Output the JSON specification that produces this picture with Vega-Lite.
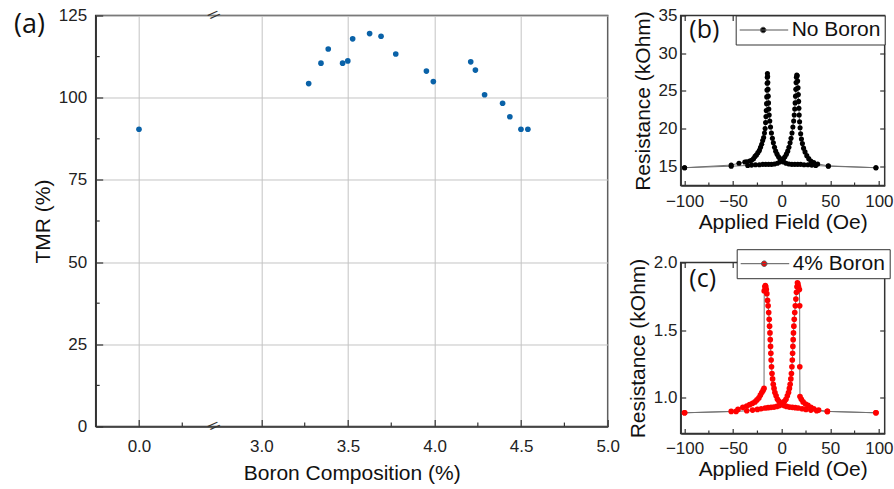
{
  "$schema": "https://vega.github.io/schema/vega-lite/v6.json",
  "padding": {"left": 12.7, "top": 5.5, "right": 1, "bottom": 0},
  "background": "white",
  "spacing": 5,
  "resolve": {"scale": {"color": "independent"}, "legend": {"color": "independent"}},
  "config": {
    "view": {"stroke": "#333", "strokeWidth": 1.5},
    "axis": {"labelFont": "Liberation Sans", "labelFontSize": 17, "labelColor": "#222", "titleFont": "Liberation Sans", "titleFontSize": 21, "titleFontWeight": "normal", "titleColor": "#111", "domainColor": "#333", "domainWidth": 1.5, "tickColor": "#333", "tickWidth": 1.2, "gridColor": "#c4c4c4", "gridWidth": 1, "labelOverlap": false, "labelFlush": false}
  },
  "datasets": {
    "main": [
      {"boron": 0, "tmr": 90.4},
      {"boron": 3.273, "tmr": 104.3},
      {"boron": 3.344, "tmr": 110.5},
      {"boron": 3.386, "tmr": 114.8},
      {"boron": 3.469, "tmr": 110.5},
      {"boron": 3.499, "tmr": 111.2},
      {"boron": 3.527, "tmr": 117.9},
      {"boron": 3.625, "tmr": 119.5},
      {"boron": 3.691, "tmr": 118.7},
      {"boron": 3.776, "tmr": 113.3},
      {"boron": 3.953, "tmr": 108.1},
      {"boron": 3.993, "tmr": 104.9},
      {"boron": 4.209, "tmr": 110.9},
      {"boron": 4.236, "tmr": 108.4},
      {"boron": 4.289, "tmr": 100.9},
      {"boron": 4.393, "tmr": 98.3},
      {"boron": 4.435, "tmr": 94.2},
      {"boron": 4.499, "tmr": 90.4},
      {"boron": 4.539, "tmr": 90.4}
    ],
    "minorx": [{"boron": 0.25}, {"boron": 3.25}, {"boron": 3.75}, {"boron": 4.25}, {"boron": 4.75}],
    "minory": [{"tmr": 12.5}, {"tmr": 37.5}, {"tmr": 62.5}, {"tmr": 87.5}, {"tmr": 112.5}],
    "breaks": [{"tmr": 0}, {"tmr": 125}],
    "minorH": [{"H": -75}, {"H": -25}, {"H": 25}, {"H": 75}],
    "noboron": [
      {"H": -100, "R": 14.8, "branch": "down", "sample": "No Boron"},
      {"H": -52, "R": 15.15, "branch": "down", "sample": "No Boron"},
      {"H": -44, "R": 15.4, "branch": "down", "sample": "No Boron"},
      {"H": -38, "R": 15.55, "branch": "down", "sample": "No Boron"},
      {"H": -36, "R": 15.6, "branch": "down", "sample": "No Boron"},
      {"H": -33, "R": 15.7, "branch": "down", "sample": "No Boron"},
      {"H": -31, "R": 15.8, "branch": "down", "sample": "No Boron"},
      {"H": -29, "R": 16.0, "branch": "down", "sample": "No Boron"},
      {"H": -27.5, "R": 16.3, "branch": "down", "sample": "No Boron"},
      {"H": -26, "R": 16.5, "branch": "down", "sample": "No Boron"},
      {"H": -24.5, "R": 16.8, "branch": "down", "sample": "No Boron"},
      {"H": -23, "R": 17.1, "branch": "down", "sample": "No Boron"},
      {"H": -21.8, "R": 17.5, "branch": "down", "sample": "No Boron"},
      {"H": -20.6, "R": 17.9, "branch": "down", "sample": "No Boron"},
      {"H": -19.6, "R": 18.4, "branch": "down", "sample": "No Boron"},
      {"H": -18.6, "R": 18.8, "branch": "down", "sample": "No Boron"},
      {"H": -17.8, "R": 19.4, "branch": "down", "sample": "No Boron"},
      {"H": -17.1, "R": 20.0, "branch": "down", "sample": "No Boron"},
      {"H": -16.6, "R": 20.8, "branch": "down", "sample": "No Boron"},
      {"H": -16.2, "R": 21.6, "branch": "down", "sample": "No Boron"},
      {"H": -15.9, "R": 22.4, "branch": "down", "sample": "No Boron"},
      {"H": -15.6, "R": 23.3, "branch": "down", "sample": "No Boron"},
      {"H": -15.4, "R": 24.2, "branch": "down", "sample": "No Boron"},
      {"H": -15.2, "R": 25.1, "branch": "down", "sample": "No Boron"},
      {"H": -15.0, "R": 26.0, "branch": "down", "sample": "No Boron"},
      {"H": -14.9, "R": 26.8, "branch": "down", "sample": "No Boron"},
      {"H": -14.7, "R": 27.3, "branch": "down", "sample": "No Boron"},
      {"H": -14.5, "R": 26.9, "branch": "down", "sample": "No Boron"},
      {"H": -14.3, "R": 26.1, "branch": "down", "sample": "No Boron"},
      {"H": -14.1, "R": 25.2, "branch": "down", "sample": "No Boron"},
      {"H": -13.9, "R": 24.3, "branch": "down", "sample": "No Boron"},
      {"H": -13.6, "R": 23.4, "branch": "down", "sample": "No Boron"},
      {"H": -13.3, "R": 22.6, "branch": "down", "sample": "No Boron"},
      {"H": -12.9, "R": 21.8, "branch": "down", "sample": "No Boron"},
      {"H": -12.3, "R": 21.0, "branch": "down", "sample": "No Boron"},
      {"H": -11.5, "R": 20.2, "branch": "down", "sample": "No Boron"},
      {"H": -10.6, "R": 19.4, "branch": "down", "sample": "No Boron"},
      {"H": -9.6, "R": 18.7, "branch": "down", "sample": "No Boron"},
      {"H": -8.6, "R": 18.1, "branch": "down", "sample": "No Boron"},
      {"H": -7.4, "R": 17.5, "branch": "down", "sample": "No Boron"},
      {"H": -6.2, "R": 17.0, "branch": "down", "sample": "No Boron"},
      {"H": -4.8, "R": 16.6, "branch": "down", "sample": "No Boron"},
      {"H": -3.3, "R": 16.25, "branch": "down", "sample": "No Boron"},
      {"H": -1.8, "R": 16.0, "branch": "down", "sample": "No Boron"},
      {"H": 0, "R": 15.75, "branch": "down", "sample": "No Boron"},
      {"H": 2, "R": 15.55, "branch": "down", "sample": "No Boron"},
      {"H": 4.5, "R": 15.4, "branch": "down", "sample": "No Boron"},
      {"H": 7.5, "R": 15.3, "branch": "down", "sample": "No Boron"},
      {"H": 10.5, "R": 15.25, "branch": "down", "sample": "No Boron"},
      {"H": 13.5, "R": 15.25, "branch": "down", "sample": "No Boron"},
      {"H": 16.5, "R": 15.25, "branch": "down", "sample": "No Boron"},
      {"H": 19.5, "R": 15.25, "branch": "down", "sample": "No Boron"},
      {"H": 23, "R": 15.2, "branch": "down", "sample": "No Boron"},
      {"H": 27, "R": 15.2, "branch": "down", "sample": "No Boron"},
      {"H": 31, "R": 15.15, "branch": "down", "sample": "No Boron"},
      {"H": 35, "R": 15.1, "branch": "down", "sample": "No Boron"},
      {"H": 48, "R": 15.0, "branch": "down", "sample": "No Boron"},
      {"H": 97, "R": 14.8, "branch": "down", "sample": "No Boron"},
      {"H": -100, "R": 14.8, "branch": "up", "sample": "No Boron"},
      {"H": -52, "R": 15.0, "branch": "up", "sample": "No Boron"},
      {"H": -35, "R": 15.1, "branch": "up", "sample": "No Boron"},
      {"H": -31, "R": 15.15, "branch": "up", "sample": "No Boron"},
      {"H": -27, "R": 15.2, "branch": "up", "sample": "No Boron"},
      {"H": -23, "R": 15.2, "branch": "up", "sample": "No Boron"},
      {"H": -19.5, "R": 15.25, "branch": "up", "sample": "No Boron"},
      {"H": -16.5, "R": 15.25, "branch": "up", "sample": "No Boron"},
      {"H": -13.5, "R": 15.25, "branch": "up", "sample": "No Boron"},
      {"H": -10.5, "R": 15.25, "branch": "up", "sample": "No Boron"},
      {"H": -7.5, "R": 15.3, "branch": "up", "sample": "No Boron"},
      {"H": -4.5, "R": 15.4, "branch": "up", "sample": "No Boron"},
      {"H": -2, "R": 15.55, "branch": "up", "sample": "No Boron"},
      {"H": 0, "R": 15.75, "branch": "up", "sample": "No Boron"},
      {"H": 1.8, "R": 16.0, "branch": "up", "sample": "No Boron"},
      {"H": 3.3, "R": 16.25, "branch": "up", "sample": "No Boron"},
      {"H": 4.8, "R": 16.6, "branch": "up", "sample": "No Boron"},
      {"H": 6.2, "R": 17.0, "branch": "up", "sample": "No Boron"},
      {"H": 7.4, "R": 17.5, "branch": "up", "sample": "No Boron"},
      {"H": 8.6, "R": 18.1, "branch": "up", "sample": "No Boron"},
      {"H": 9.6, "R": 18.7, "branch": "up", "sample": "No Boron"},
      {"H": 10.6, "R": 19.4, "branch": "up", "sample": "No Boron"},
      {"H": 11.5, "R": 20.2, "branch": "up", "sample": "No Boron"},
      {"H": 12.3, "R": 21.0, "branch": "up", "sample": "No Boron"},
      {"H": 12.9, "R": 21.8, "branch": "up", "sample": "No Boron"},
      {"H": 13.4, "R": 22.6, "branch": "up", "sample": "No Boron"},
      {"H": 13.8, "R": 23.4, "branch": "up", "sample": "No Boron"},
      {"H": 14.2, "R": 24.3, "branch": "up", "sample": "No Boron"},
      {"H": 14.5, "R": 25.2, "branch": "up", "sample": "No Boron"},
      {"H": 14.8, "R": 26.1, "branch": "up", "sample": "No Boron"},
      {"H": 15.1, "R": 26.8, "branch": "up", "sample": "No Boron"},
      {"H": 15.5, "R": 27.1, "branch": "up", "sample": "No Boron"},
      {"H": 16.0, "R": 27.0, "branch": "up", "sample": "No Boron"},
      {"H": 16.4, "R": 26.3, "branch": "up", "sample": "No Boron"},
      {"H": 16.8, "R": 25.4, "branch": "up", "sample": "No Boron"},
      {"H": 17.1, "R": 24.5, "branch": "up", "sample": "No Boron"},
      {"H": 17.4, "R": 23.6, "branch": "up", "sample": "No Boron"},
      {"H": 17.7, "R": 22.7, "branch": "up", "sample": "No Boron"},
      {"H": 18.0, "R": 21.8, "branch": "up", "sample": "No Boron"},
      {"H": 18.4, "R": 20.9, "branch": "up", "sample": "No Boron"},
      {"H": 18.9, "R": 20.1, "branch": "up", "sample": "No Boron"},
      {"H": 19.5, "R": 19.3, "branch": "up", "sample": "No Boron"},
      {"H": 20.3, "R": 18.6, "branch": "up", "sample": "No Boron"},
      {"H": 21.3, "R": 18.0, "branch": "up", "sample": "No Boron"},
      {"H": 22.5, "R": 17.4, "branch": "up", "sample": "No Boron"},
      {"H": 24, "R": 16.9, "branch": "up", "sample": "No Boron"},
      {"H": 25.8, "R": 16.4, "branch": "up", "sample": "No Boron"},
      {"H": 27.8, "R": 16.0, "branch": "up", "sample": "No Boron"},
      {"H": 30, "R": 15.7, "branch": "up", "sample": "No Boron"},
      {"H": 33, "R": 15.5, "branch": "up", "sample": "No Boron"},
      {"H": 37, "R": 15.3, "branch": "up", "sample": "No Boron"},
      {"H": 48, "R": 15.05, "branch": "up", "sample": "No Boron"},
      {"H": 97, "R": 14.8, "branch": "up", "sample": "No Boron"}
    ],
    "boron4": [
      {"H": -100, "R": 0.89, "branch": "down", "sample": "4% Boron"},
      {"H": -52, "R": 0.9, "branch": "down", "sample": "4% Boron"},
      {"H": -45, "R": 0.915, "branch": "down", "sample": "4% Boron"},
      {"H": -40, "R": 0.93, "branch": "down", "sample": "4% Boron"},
      {"H": -36, "R": 0.94, "branch": "down", "sample": "4% Boron"},
      {"H": -33, "R": 0.95, "branch": "down", "sample": "4% Boron"},
      {"H": -30, "R": 0.96, "branch": "down", "sample": "4% Boron"},
      {"H": -27.5, "R": 0.97, "branch": "down", "sample": "4% Boron"},
      {"H": -25.5, "R": 0.985, "branch": "down", "sample": "4% Boron"},
      {"H": -23.5, "R": 1.0, "branch": "down", "sample": "4% Boron"},
      {"H": -22, "R": 1.02, "branch": "down", "sample": "4% Boron"},
      {"H": -20.5, "R": 1.04, "branch": "down", "sample": "4% Boron"},
      {"H": -19.2, "R": 1.055, "branch": "down", "sample": "4% Boron"},
      {"H": -18.2, "R": 1.07, "branch": "down", "sample": "4% Boron"},
      {"H": -18, "R": 1.79, "branch": "down", "sample": "4% Boron"},
      {"H": -17.4, "R": 1.82, "branch": "down", "sample": "4% Boron"},
      {"H": -16.9, "R": 1.83, "branch": "down", "sample": "4% Boron"},
      {"H": -16.4, "R": 1.82, "branch": "down", "sample": "4% Boron"},
      {"H": -15.9, "R": 1.8, "branch": "down", "sample": "4% Boron"},
      {"H": -15.3, "R": 1.77, "branch": "down", "sample": "4% Boron"},
      {"H": -14.6, "R": 1.72, "branch": "down", "sample": "4% Boron"},
      {"H": -14.0, "R": 1.68, "branch": "down", "sample": "4% Boron"},
      {"H": -13.4, "R": 1.63, "branch": "down", "sample": "4% Boron"},
      {"H": -12.9, "R": 1.58, "branch": "down", "sample": "4% Boron"},
      {"H": -12.5, "R": 1.53, "branch": "down", "sample": "4% Boron"},
      {"H": -12.1, "R": 1.48, "branch": "down", "sample": "4% Boron"},
      {"H": -11.8, "R": 1.43, "branch": "down", "sample": "4% Boron"},
      {"H": -11.5, "R": 1.38, "branch": "down", "sample": "4% Boron"},
      {"H": -11.2, "R": 1.33, "branch": "down", "sample": "4% Boron"},
      {"H": -10.9, "R": 1.28, "branch": "down", "sample": "4% Boron"},
      {"H": -10.5, "R": 1.23, "branch": "down", "sample": "4% Boron"},
      {"H": -10.0, "R": 1.18, "branch": "down", "sample": "4% Boron"},
      {"H": -9.4, "R": 1.14, "branch": "down", "sample": "4% Boron"},
      {"H": -8.7, "R": 1.1, "branch": "down", "sample": "4% Boron"},
      {"H": -7.9, "R": 1.07, "branch": "down", "sample": "4% Boron"},
      {"H": -7.0, "R": 1.04, "branch": "down", "sample": "4% Boron"},
      {"H": -5.8, "R": 1.015, "branch": "down", "sample": "4% Boron"},
      {"H": -4.4, "R": 0.99, "branch": "down", "sample": "4% Boron"},
      {"H": -2.8, "R": 0.975, "branch": "down", "sample": "4% Boron"},
      {"H": -1.2, "R": 0.962, "branch": "down", "sample": "4% Boron"},
      {"H": 0.5, "R": 0.952, "branch": "down", "sample": "4% Boron"},
      {"H": 2.5, "R": 0.943, "branch": "down", "sample": "4% Boron"},
      {"H": 5, "R": 0.937, "branch": "down", "sample": "4% Boron"},
      {"H": 8, "R": 0.932, "branch": "down", "sample": "4% Boron"},
      {"H": 11, "R": 0.93, "branch": "down", "sample": "4% Boron"},
      {"H": 14, "R": 0.928, "branch": "down", "sample": "4% Boron"},
      {"H": 17, "R": 0.925, "branch": "down", "sample": "4% Boron"},
      {"H": 21, "R": 0.92, "branch": "down", "sample": "4% Boron"},
      {"H": 25, "R": 0.915, "branch": "down", "sample": "4% Boron"},
      {"H": 30, "R": 0.91, "branch": "down", "sample": "4% Boron"},
      {"H": 36, "R": 0.905, "branch": "down", "sample": "4% Boron"},
      {"H": 47, "R": 0.9, "branch": "down", "sample": "4% Boron"},
      {"H": 97, "R": 0.89, "branch": "down", "sample": "4% Boron"},
      {"H": -100, "R": 0.89, "branch": "up", "sample": "4% Boron"},
      {"H": -47, "R": 0.9, "branch": "up", "sample": "4% Boron"},
      {"H": -36, "R": 0.905, "branch": "up", "sample": "4% Boron"},
      {"H": -30, "R": 0.91, "branch": "up", "sample": "4% Boron"},
      {"H": -25, "R": 0.915, "branch": "up", "sample": "4% Boron"},
      {"H": -21, "R": 0.92, "branch": "up", "sample": "4% Boron"},
      {"H": -17, "R": 0.925, "branch": "up", "sample": "4% Boron"},
      {"H": -14, "R": 0.928, "branch": "up", "sample": "4% Boron"},
      {"H": -11, "R": 0.93, "branch": "up", "sample": "4% Boron"},
      {"H": -8, "R": 0.932, "branch": "up", "sample": "4% Boron"},
      {"H": -5, "R": 0.937, "branch": "up", "sample": "4% Boron"},
      {"H": -2.5, "R": 0.943, "branch": "up", "sample": "4% Boron"},
      {"H": -0.5, "R": 0.952, "branch": "up", "sample": "4% Boron"},
      {"H": 1.2, "R": 0.962, "branch": "up", "sample": "4% Boron"},
      {"H": 2.8, "R": 0.975, "branch": "up", "sample": "4% Boron"},
      {"H": 4.4, "R": 0.99, "branch": "up", "sample": "4% Boron"},
      {"H": 5.8, "R": 1.015, "branch": "up", "sample": "4% Boron"},
      {"H": 7.0, "R": 1.04, "branch": "up", "sample": "4% Boron"},
      {"H": 7.9, "R": 1.07, "branch": "up", "sample": "4% Boron"},
      {"H": 8.7, "R": 1.1, "branch": "up", "sample": "4% Boron"},
      {"H": 9.4, "R": 1.14, "branch": "up", "sample": "4% Boron"},
      {"H": 10.0, "R": 1.18, "branch": "up", "sample": "4% Boron"},
      {"H": 10.5, "R": 1.23, "branch": "up", "sample": "4% Boron"},
      {"H": 10.9, "R": 1.28, "branch": "up", "sample": "4% Boron"},
      {"H": 11.2, "R": 1.33, "branch": "up", "sample": "4% Boron"},
      {"H": 11.5, "R": 1.38, "branch": "up", "sample": "4% Boron"},
      {"H": 11.8, "R": 1.43, "branch": "up", "sample": "4% Boron"},
      {"H": 12.1, "R": 1.48, "branch": "up", "sample": "4% Boron"},
      {"H": 12.5, "R": 1.53, "branch": "up", "sample": "4% Boron"},
      {"H": 12.9, "R": 1.58, "branch": "up", "sample": "4% Boron"},
      {"H": 13.4, "R": 1.63, "branch": "up", "sample": "4% Boron"},
      {"H": 14.0, "R": 1.68, "branch": "up", "sample": "4% Boron"},
      {"H": 14.6, "R": 1.73, "branch": "up", "sample": "4% Boron"},
      {"H": 15.2, "R": 1.78, "branch": "up", "sample": "4% Boron"},
      {"H": 15.7, "R": 1.82, "branch": "up", "sample": "4% Boron"},
      {"H": 16.2, "R": 1.85, "branch": "up", "sample": "4% Boron"},
      {"H": 16.7, "R": 1.84, "branch": "up", "sample": "4% Boron"},
      {"H": 17.3, "R": 1.82, "branch": "up", "sample": "4% Boron"},
      {"H": 18.2, "R": 1.8, "branch": "up", "sample": "4% Boron"},
      {"H": 18.5, "R": 1.68, "branch": "up", "sample": "4% Boron"},
      {"H": 18.6, "R": 1.23, "branch": "up", "sample": "4% Boron"},
      {"H": 18.8, "R": 1.01, "branch": "up", "sample": "4% Boron"},
      {"H": 20.2, "R": 0.99, "branch": "up", "sample": "4% Boron"},
      {"H": 22, "R": 0.97, "branch": "up", "sample": "4% Boron"},
      {"H": 24.5, "R": 0.955, "branch": "up", "sample": "4% Boron"},
      {"H": 27, "R": 0.945, "branch": "up", "sample": "4% Boron"},
      {"H": 30, "R": 0.93, "branch": "up", "sample": "4% Boron"},
      {"H": 33, "R": 0.92, "branch": "up", "sample": "4% Boron"},
      {"H": 38, "R": 0.91, "branch": "up", "sample": "4% Boron"},
      {"H": 47, "R": 0.9, "branch": "up", "sample": "4% Boron"},
      {"H": 97, "R": 0.89, "branch": "up", "sample": "4% Boron"}
    ]
  },
  "hconcat": [
    {
      "width": 512,
      "height": 411,
      "layer": [
        {
          "data": {"name": "main"},
          "mark": {"type": "point", "filled": true, "size": 32, "color": "#0a62a8", "opacity": 1},
          "encoding": {
            "x": {"field": "boron", "type": "quantitative",
              "scale": {"domain": [-0.25, 0.428, 2.721, 5.0], "range": [0, 117.4, 117.4, 512], "zero": false, "nice": false},
              "axis": {"values": [0, 3, 3.5, 4, 4.5, 5], "format": ".1f", "grid": true, "tickSize": -7, "labelPadding": 19, "title": "Boron Composition (%)", "titlePadding": 8}},
            "y": {"field": "tmr", "type": "quantitative",
              "scale": {"domain": [0, 125], "nice": false, "zero": false},
              "axis": {"values": [0, 25, 50, 75, 100, 125], "grid": true, "tickSize": -7, "labelPadding": 16, "title": "TMR (%)", "titlePadding": 5}}
          }
        },
        {
          "data": {"name": "minorx"},
          "mark": {"type": "rule", "color": "#333", "strokeWidth": 1.2},
          "encoding": {
            "x": {"field": "boron", "type": "quantitative",
              "scale": {"domain": [-0.25, 0.428, 2.721, 5.0], "range": [0, 117.4, 117.4, 512], "zero": false, "nice": false},
              "axis": {"values": [0, 3, 3.5, 4, 4.5, 5], "format": ".1f", "grid": true, "tickSize": -7, "labelPadding": 19, "title": "Boron Composition (%)", "titlePadding": 8}},
            "y": {"datum": 0, "type": "quantitative",
              "scale": {"domain": [0, 125], "nice": false, "zero": false},
              "axis": {"values": [0, 25, 50, 75, 100, 125], "grid": true, "tickSize": -7, "labelPadding": 16, "title": "TMR (%)", "titlePadding": 5}},
            "y2": {"datum": 1.2}
          }
        },
        {
          "data": {"name": "minory"},
          "mark": {"type": "rule", "color": "#333", "strokeWidth": 1.2},
          "encoding": {
            "y": {"field": "tmr", "type": "quantitative",
              "scale": {"domain": [0, 125], "nice": false, "zero": false},
              "axis": {"values": [0, 25, 50, 75, 100, 125], "grid": true, "tickSize": -7, "labelPadding": 16, "title": "TMR (%)", "titlePadding": 5}},
            "x": {"datum": -0.25, "type": "quantitative",
              "scale": {"domain": [-0.25, 0.428, 2.721, 5.0], "range": [0, 117.4, 117.4, 512], "zero": false, "nice": false},
              "axis": {"values": [0, 3, 3.5, 4, 4.5, 5], "format": ".1f", "grid": true, "tickSize": -7, "labelPadding": 19, "title": "Boron Composition (%)", "titlePadding": 8}},
            "x2": {"datum": -0.227}
          }
        },
        {
          "data": {"name": "breaks"},
          "mark": {"type": "text", "text": "//", "font": "Liberation Sans", "fontSize": 14, "angle": 50, "color": "#333", "baseline": "middle", "align": "center"},
          "encoding": {
            "x": {"datum": 0.428, "type": "quantitative",
              "scale": {"domain": [-0.25, 0.428, 2.721, 5.0], "range": [0, 117.4, 117.4, 512], "zero": false, "nice": false},
              "axis": {"values": [0, 3, 3.5, 4, 4.5, 5], "format": ".1f", "grid": true, "tickSize": -7, "labelPadding": 19, "title": "Boron Composition (%)", "titlePadding": 8}},
            "y": {"field": "tmr", "type": "quantitative",
              "scale": {"domain": [0, 125], "nice": false, "zero": false},
              "axis": {"values": [0, 25, 50, 75, 100, 125], "grid": true, "tickSize": -7, "labelPadding": 16, "title": "TMR (%)", "titlePadding": 5}}
          }
        },
        {
          "data": {"values": [{"label": "(a)"}]},
          "mark": {"type": "text", "font": "Open Sans", "fontSize": 27, "color": "#111", "align": "left", "baseline": "top", "dx": -81.6, "dy": -4},
          "encoding": {
            "text": {"field": "label"},
            "x": {"datum": -0.25, "type": "quantitative",
              "scale": {"domain": [-0.25, 0.428, 2.721, 5.0], "range": [0, 117.4, 117.4, 512], "zero": false, "nice": false},
              "axis": {"values": [0, 3, 3.5, 4, 4.5, 5], "format": ".1f", "grid": true, "tickSize": -7, "labelPadding": 19, "title": "Boron Composition (%)", "titlePadding": 8}},
            "y": {"datum": 125, "type": "quantitative",
              "scale": {"domain": [0, 125], "nice": false, "zero": false},
              "axis": {"values": [0, 25, 50, 75, 100, 125], "grid": true, "tickSize": -7, "labelPadding": 16, "title": "TMR (%)", "titlePadding": 5}}
          }
        }
      ]
    },
    {
      "spacing": 14,
      "resolve": {"scale": {"color": "independent"}, "legend": {"color": "independent"}},
      "vconcat": [
        {
          "width": 204,
          "height": 170,
          "resolve": {"axis": {"x": "independent", "y": "independent"}},
          "layer": [
            {
              "data": {"name": "noboron"},
              "mark": {"type": "line", "color": "#707070", "strokeWidth": 1},
              "encoding": {
                "x": {"field": "H", "type": "quantitative", "scale": {"domain": [-104, 106], "nice": false, "zero": false},
                  "axis": {"values": [-100, -50, 0, 50, 100], "grid": false, "tickSize": -5, "labelPadding": 12.5, "title": "Applied Field (Oe)", "titlePadding": 2}},
                "y": {"field": "R", "type": "quantitative", "scale": {"domain": [12.44, 35], "nice": false, "zero": false},
                  "axis": {"values": [15, 20, 25, 30, 35], "grid": false, "tickSize": -5, "labelPadding": 8.7, "title": "Resistance (kOhm)", "titlePadding": 5}},
                "detail": {"field": "branch"}
              }
            },
            {
              "data": {"name": "minorH"},
              "mark": {"type": "rule", "color": "#333", "strokeWidth": 1.2},
              "encoding": {
                "x": {"field": "H", "type": "quantitative", "axis": null},
                "y": {"datum": 12.44, "type": "quantitative", "axis": null},
                "y2": {"datum": 12.84}
              }
            },
            {
              "data": {"name": "noboron"},
              "mark": {"type": "point", "filled": true, "size": 26, "opacity": 1},
              "encoding": {
                "x": {"field": "H", "type": "quantitative",
                  "axis": {"orient": "top", "values": [-100, -50, 0, 50, 100], "grid": false, "labels": false, "domain": false, "title": null, "tickSize": -5}},
                "y": {"field": "R", "type": "quantitative",
                  "axis": {"orient": "right", "values": [15, 20, 25, 30, 35], "grid": false, "labels": false, "domain": false, "title": null, "tickSize": -5}},
                "color": {"field": "sample", "type": "nominal", "scale": {"range": ["#000000"]},
                  "legend": {"title": null, "orient": "top-right", "offset": 0, "padding": 4, "strokeColor": "#333", "fillColor": "white", "cornerRadius": 0,
                    "symbolType": "M-1,0L1,0M-0.11,0A0.11,0.11,0,1,0,0.11,0A0.11,0.11,0,1,0,-0.11,0Z", "symbolSize": 2500, "clipHeight": 21, "symbolOffset": -2, "labelOffset": 3,
                    "labelFont": "Liberation Sans", "labelFontSize": 21, "labelColor": "#111", "symbolOpacity": 1,
                    "encode": {"symbols": {"update": {"stroke": {"value": "#555"}, "strokeWidth": {"value": 1}}}}}}
              }
            },
            {
              "data": {"values": [{"label": "(b)"}]},
              "mark": {"type": "text", "font": "Open Sans", "fontSize": 25, "color": "#111", "align": "left", "baseline": "top", "dx": 8.6, "dy": 2},
              "encoding": {
                "text": {"field": "label"},
                "x": {"datum": -104, "type": "quantitative", "axis": null},
                "y": {"datum": 35, "type": "quantitative", "axis": null}
              }
            }
          ]
        },
        {
          "width": 204,
          "height": 171,
          "resolve": {"axis": {"x": "independent", "y": "independent"}},
          "layer": [
            {
              "data": {"name": "boron4"},
              "mark": {"type": "line", "color": "#707070", "strokeWidth": 1},
              "encoding": {
                "x": {"field": "H", "type": "quantitative", "scale": {"domain": [-104, 106], "nice": false, "zero": false},
                  "axis": {"values": [-100, -50, 0, 50, 100], "grid": false, "tickSize": -5, "labelPadding": 12.5, "title": "Applied Field (Oe)", "titlePadding": 2}},
                "y": {"field": "R", "type": "quantitative", "scale": {"domain": [0.737, 2.0], "nice": false, "zero": false},
                  "axis": {"values": [1.0, 1.5, 2.0], "format": ".1f", "grid": false, "tickSize": -5, "labelPadding": 8.7, "title": "Resistance (kOhm)", "titlePadding": 5}},
                "detail": {"field": "branch"}
              }
            },
            {
              "data": {"name": "minorH"},
              "mark": {"type": "rule", "color": "#333", "strokeWidth": 1.2},
              "encoding": {
                "x": {"field": "H", "type": "quantitative", "axis": null},
                "y": {"datum": 0.737, "type": "quantitative", "axis": null},
                "y2": {"datum": 0.759}
              }
            },
            {
              "data": {"name": "boron4"},
              "mark": {"type": "point", "filled": true, "size": 32, "opacity": 1},
              "encoding": {
                "x": {"field": "H", "type": "quantitative",
                  "axis": {"orient": "top", "values": [-100, -50, 0, 50, 100], "grid": false, "labels": false, "domain": false, "title": null, "tickSize": -5}},
                "y": {"field": "R", "type": "quantitative",
                  "axis": {"orient": "right", "values": [1.0, 1.5, 2.0], "grid": false, "labels": false, "domain": false, "title": null, "tickSize": -5}},
                "color": {"field": "sample", "type": "nominal", "scale": {"range": ["#ff0000"]},
                  "legend": {"title": null, "orient": "none", "legendX": 56, "legendY": -13.3, "padding": 4, "strokeColor": "#333", "fillColor": "white", "cornerRadius": 0,
                    "symbolType": "M-1,0L1,0M-0.11,0A0.11,0.11,0,1,0,0.11,0A0.11,0.11,0,1,0,-0.11,0Z", "symbolSize": 2500, "clipHeight": 21, "symbolOffset": -2, "labelOffset": 3,
                    "labelFont": "Liberation Sans", "labelFontSize": 21, "labelColor": "#111", "symbolOpacity": 1,
                    "encode": {"symbols": {"update": {"stroke": {"value": "#555"}, "strokeWidth": {"value": 1}}}}}}
              }
            },
            {
              "data": {"values": [{"label": "(c)"}]},
              "mark": {"type": "text", "font": "Open Sans", "fontSize": 25, "color": "#111", "align": "left", "baseline": "top", "dx": 8.6, "dy": 5},
              "encoding": {
                "text": {"field": "label"},
                "x": {"datum": -104, "type": "quantitative", "axis": null},
                "y": {"datum": 2.0, "type": "quantitative", "axis": null}
              }
            }
          ]
        }
      ]
    }
  ]
}
